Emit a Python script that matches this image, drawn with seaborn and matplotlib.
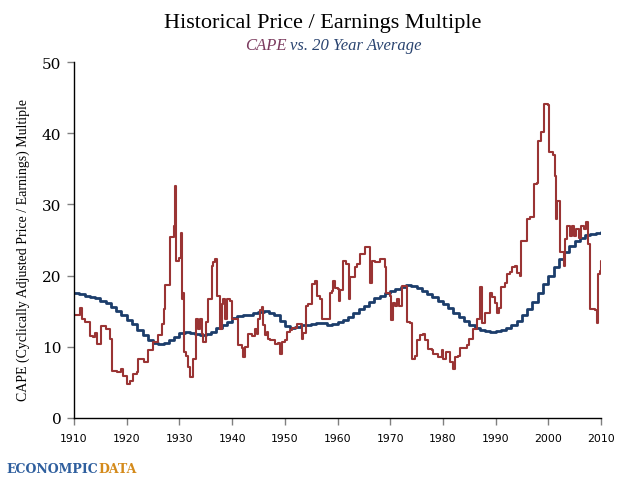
import matplotlib
matplotlib.use("Agg")
import matplotlib.pyplot as plt
import seaborn as sns
import pandas as pd

# CAPE (step series): year, value
cape_years = [1910.0, 1911.1, 1911.5, 1912.1, 1913.0, 1913.6, 1914.0, 1914.4, 1915.1, 1916.1,
              1916.8, 1917.2, 1918.2, 1918.9, 1919.3, 1920.1, 1920.6, 1921.2, 1921.9, 1922.2,
              1923.3, 1924.0, 1925.0, 1925.9, 1926.7, 1927.1, 1927.3, 1928.2, 1929.0, 1929.2,
              1929.4, 1929.9, 1930.3, 1930.5, 1930.7, 1930.9, 1931.3, 1931.7, 1932.0, 1932.6,
              1933.1, 1933.6, 1933.9, 1934.3, 1934.5, 1935.0, 1935.4, 1936.2, 1936.4, 1936.8,
              1937.1, 1937.7, 1938.1, 1938.3, 1938.7, 1939.0, 1939.6, 1939.9, 1940.5, 1941.1,
              1941.9, 1942.1, 1942.4, 1943.0, 1943.7, 1944.3, 1944.7, 1944.9, 1945.3, 1945.7,
              1945.9, 1946.2, 1946.6, 1946.9, 1947.2, 1948.1, 1948.7, 1949.1, 1949.5, 1950.0,
              1950.4, 1951.0, 1951.4, 1952.3, 1953.3, 1953.5, 1954.0, 1954.4, 1955.2, 1955.7,
              1956.1, 1956.7, 1957.1, 1958.2, 1958.5, 1959.0, 1959.2, 1959.5, 1960.1, 1960.3,
              1960.5, 1961.0, 1961.7, 1962.2, 1962.4, 1963.3, 1963.7, 1964.3, 1965.2, 1965.8,
              1966.2, 1966.5, 1967.1, 1968.1, 1969.0, 1969.2, 1970.0, 1970.2, 1970.5, 1970.9,
              1971.3, 1971.7, 1972.2, 1972.8, 1973.1, 1973.8, 1974.1, 1974.7, 1975.1, 1975.7,
              1976.2, 1976.6, 1977.2, 1977.9, 1978.1, 1979.1, 1979.8, 1980.0, 1980.6, 1981.3,
              1981.9, 1982.3, 1982.9, 1983.2, 1984.6, 1984.9, 1985.7, 1986.4, 1987.0, 1987.4,
              1988.0, 1988.9, 1989.3, 1989.9, 1990.2, 1990.6, 1991.1, 1991.8, 1992.1, 1992.7,
              1993.1, 1993.7, 1994.1, 1994.6, 1994.9, 1995.9, 1996.5, 1997.2, 1997.9, 1998.1,
              1998.7, 1999.2, 2000.0, 2000.2, 2000.9, 2001.3, 2001.5, 2001.6, 2002.2, 2002.3,
              2003.0, 2003.2, 2003.5, 2004.1, 2004.5, 2004.9, 2005.3, 2005.8, 2006.2, 2006.8,
              2007.2, 2007.6, 2008.0, 2008.9, 2009.2, 2009.5, 2009.8, 2009.95]
cape_values = [14.4, 15.4, 13.9, 13.5, 11.5, 11.4, 12.0, 10.4, 12.9, 12.5,
               11.1, 6.6, 6.5, 6.9, 5.9, 4.8, 5.2, 6.2, 6.5, 8.3,
               7.9, 9.5, 10.7, 11.6, 13.2, 15.3, 18.7, 25.4, 27.0, 32.6,
               22.0, 22.5, 26.0, 16.7, 17.5, 9.2, 8.7, 7.2, 5.7, 8.3,
               13.9, 12.5, 13.9, 11.8, 10.7, 13.5, 16.7, 21.4, 21.9, 22.3,
               17.2, 12.5, 16.0, 16.7, 13.9, 16.7, 16.5, 13.9, 13.9, 10.2,
               9.9, 8.6, 10.0, 11.8, 11.5, 12.5, 11.8, 13.9, 15.1, 15.6,
               13.0, 11.6, 12.1, 11.1, 10.9, 10.4, 10.6, 9.0, 10.7, 10.9,
               12.1, 12.3, 12.7, 13.2, 11.1, 12.0, 15.8, 16.0, 18.8, 19.3,
               17.2, 16.7, 13.9, 13.9, 17.6, 17.9, 19.3, 18.3, 18.1, 16.5,
               18.0, 22.1, 21.6, 16.7, 19.8, 21.2, 21.6, 23.0, 24.0, 24.0,
               19.0, 22.1, 21.9, 22.3, 21.2, 17.6, 17.2, 13.7, 16.2, 15.8,
               16.7, 15.8, 18.6, 18.6, 13.5, 13.4, 8.3, 8.7, 10.9, 11.6,
               11.8, 11.0, 9.7, 9.5, 9.0, 8.5, 9.5, 8.3, 9.2, 7.8,
               6.9, 8.5, 8.7, 9.9, 10.2, 11.1, 12.5, 13.9, 18.4, 13.4,
               14.8, 17.6, 17.0, 16.2, 14.8, 15.5, 18.4, 19.0, 20.2, 20.5,
               21.2, 21.4, 20.3, 20.0, 24.9, 27.9, 28.2, 32.9, 33.0, 38.9,
               40.1, 44.1, 43.9, 37.3, 37.0, 34.0, 27.9, 30.5, 30.3, 23.3,
               21.4, 25.1, 27.0, 25.6, 27.0, 25.5, 26.5, 25.3, 27.0, 26.5,
               27.5, 24.4, 15.3, 15.1, 13.4, 20.2, 20.7, 22.0]

# 20-year average (annual steps)
avg_years = list(range(1910, 2011))
avg_values = [17.5, 17.4, 17.2, 17.0, 16.8, 16.5, 16.1, 15.6, 15.0, 14.4,
              13.8, 13.2, 12.4, 11.7, 11.0, 10.6, 10.4, 10.5, 10.9, 11.4,
              11.9, 12.1, 12.0, 11.8, 11.7, 11.8, 12.1, 12.6, 13.0, 13.5,
              14.0, 14.3, 14.4, 14.5, 14.7, 14.9, 15.0, 14.8, 14.4, 13.6,
              12.9, 12.6, 12.8, 13.0, 13.1, 13.2, 13.3, 13.3, 13.1, 13.2,
              13.5, 13.8, 14.2, 14.7, 15.3, 15.8, 16.3, 16.8, 17.2, 17.5,
              17.8, 18.1, 18.4, 18.7, 18.6, 18.3, 17.9, 17.4, 17.0, 16.5,
              16.0, 15.4, 14.8, 14.2, 13.6, 13.0, 12.6, 12.3, 12.2, 12.1,
              12.2, 12.3, 12.6, 13.0, 13.6, 14.4, 15.3, 16.3, 17.5, 18.8,
              20.0, 21.2, 22.3, 23.3, 24.2, 24.8, 25.3, 25.7, 25.9, 26.0,
              26.1]

x_ticks = list(range(1910, 2011, 10))
y_ticks = [0, 10, 20, 30, 40, 50]

RED = "#9a3434"
BLUE = "#1c3d6b"

sns.set_style("white")
plt.rcParams["text.color"] = "black"
plt.rcParams["axes.labelcolor"] = "black"
plt.rcParams["xtick.color"] = "black"
plt.rcParams["ytick.color"] = "black"

fig = plt.figure(figsize=(6.35, 4.85), dpi=100)
ax = fig.add_axes([74/635, 1-419/485, (601-74)/635, (419-63)/485])

df_cape = pd.DataFrame({"year": cape_years, "value": cape_values})
df_avg = pd.DataFrame({"year": avg_years, "value": avg_values})

sns.lineplot(data=df_avg, x="year", y="value", ax=ax, color=BLUE, linewidth=2.0,
             drawstyle="steps-post", estimator=None, sort=False)
sns.lineplot(data=df_cape, x="year", y="value", ax=ax, color=RED, linewidth=1.5,
             drawstyle="steps-post", estimator=None, sort=False)

ax.set_xlim(1910, 2010)
ax.set_ylim(0, 50)
ax.set_xticks(x_ticks)
ax.set_yticks(y_ticks)
ax.set_xticklabels([str(t) for t in x_ticks], fontsize=7.8, family="DejaVu Sans")
ax.set_yticklabels([str(t) for t in y_ticks], fontsize=11, family="DejaVu Serif")
ax.set_xlabel("")
ax.set_ylabel("CAPE (Cyclically Adjusted Price / Earnings) Multiple", fontsize=10,
              family="Liberation Serif")
ax.yaxis.set_label_coords(-0.083, 0.475)

for s in ["top", "right"]:
    ax.spines[s].set_visible(False)
for s in ["left", "bottom"]:
    ax.spines[s].set_color("black")
    ax.spines[s].set_linewidth(1.0)
ax.tick_params(axis="both", which="major", direction="out", length=5, width=1,
               color="#808080", labelcolor="black", bottom=True, left=True, pad=4)
ax.tick_params(axis="x", pad=6)

fig.text(0.508, 0.952, "Historical Price / Earnings Multiple", ha="center", va="center",
         fontsize=16, family="Liberation Serif", color="black")
# subtitle in two colours
t1 = fig.text(0.386, 0.905, "CAPE", ha="left", va="center", fontsize=12,
              family="Liberation Serif", style="italic", color="#7b3a5e")
fig.canvas.draw()
bb = t1.get_window_extent()
x2 = bb.x1 / fig.bbox.width
fig.text(x2 + 0.006, 0.905, "vs. 20 Year Average", ha="left", va="center", fontsize=12,
         family="Liberation Serif", style="italic", color="#2a4470")

# logo text
l1 = fig.text(0.01, 0.031, "ECONOMPIC", ha="left", va="center", fontsize=9,
              family="DejaVu Serif", weight="bold", color="#2f5f9e")
fig.canvas.draw()
bb = l1.get_window_extent()
fig.text(bb.x1 / fig.bbox.width, 0.031, "DATA", ha="left", va="center", fontsize=9,
         family="DejaVu Serif", weight="bold", color="#d48a1a")

fig.savefig("out.png", dpi=100)
